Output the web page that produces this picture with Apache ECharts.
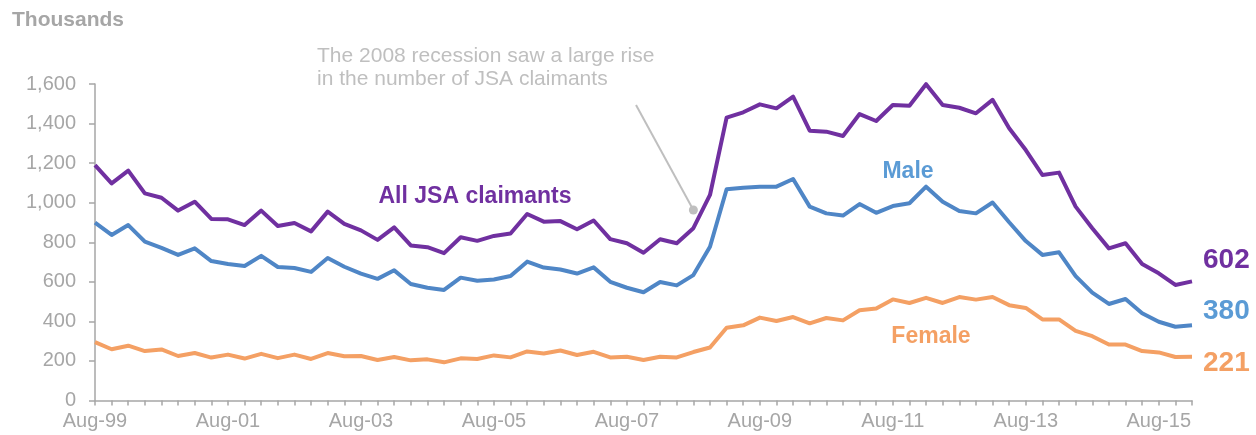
<!DOCTYPE html>
<html>
<head>
<meta charset="utf-8">
<script src="https://cdn.jsdelivr.net/npm/echarts@6/dist/echarts.min.js"></script>
<style>
html,body{margin:0;padding:0;background:#fff;}
#chart{width:1256px;height:435px;}
</style>
</head>
<body>
<div id="chart"></div>
<script>
const categories = [
  'Aug-99','Nov-99',
  'Feb-00','May-00','Aug-00','Nov-00',
  'Feb-01','May-01','Aug-01','Nov-01',
  'Feb-02','May-02','Aug-02','Nov-02',
  'Feb-03','May-03','Aug-03','Nov-03',
  'Feb-04','May-04','Aug-04','Nov-04',
  'Feb-05','May-05','Aug-05','Nov-05',
  'Feb-06','May-06','Aug-06','Nov-06',
  'Feb-07','May-07','Aug-07','Nov-07',
  'Feb-08','May-08','Aug-08','Nov-08',
  'Feb-09','May-09','Aug-09','Nov-09',
  'Feb-10','May-10','Aug-10','Nov-10',
  'Feb-11','May-11','Aug-11','Nov-11',
  'Feb-12','May-12','Aug-12','Nov-12',
  'Feb-13','May-13','Aug-13','Nov-13',
  'Feb-14','May-14','Aug-14','Nov-14',
  'Feb-15','May-15','Aug-15','Nov-15',
  'Feb-16'
];

const allClaimants = [
  1190,1098,1162,1047,1025,960,1005,918,916,887,
  960,882,897,855,955,893,860,812,875,784,
  775,745,825,807,832,844,943,904,907,866,
  910,816,795,747,815,795,871,1039,1430,1457,
  1497,1477,1536,1364,1359,1337,1448,1413,1494,1490,
  1599,1494,1480,1452,1520,1376,1266,1140,1152,980,
  871,769,795,690,643,584,602
];

const male = [
  899,837,887,803,772,736,769,705,690,680,
  731,675,670,650,720,676,641,615,658,589,
  570,559,621,605,612,629,702,672,662,642,
  673,600,570,547,599,582,634,777,1068,1076,
  1081,1081,1120,980,946,935,993,949,983,997,
  1081,1005,958,946,1001,901,806,736,749,629,
  545,488,513,441,398,373,380
];

const female = [
  295,259,277,250,258,225,240,217,232,212,
  236,214,232,210,240,224,225,205,220,203,
  208,193,213,210,228,218,248,238,253,230,
  246,218,221,205,221,218,245,268,368,380,
  419,402,422,390,417,405,456,465,511,493,
  519,493,523,510,523,482,468,410,410,352,
  325,283,283,250,243,220,221
];

const yTicks = { min: 0, max: 1600, interval: 200 };

const seriesNames = ['All JSA claimants', 'Male', 'Female'];
const annotationLines = ['The 2008 recession saw a large rise', 'in the number of JSA claimants'];
// annotation pointer: [category index, value] for start and end (dot)
const pointerStart = [32.55, 1494];
const pointerEnd = [36, 963];

const FONT = "'Liberation Sans', Arial, sans-serif";
const PURPLE = '#7030A0';
const BLUE = '#4F86C6';
const ORANGE = '#F4A064';
const AXIS = '#a6a6a6';

const chart = echarts.init(document.getElementById('chart'), null, { renderer: 'canvas' });

function lineSeries(name, data, color, labelColor, offset) {
  return {
    name: name,
    type: 'line',
    data: data,
    symbol: 'none',
    smooth: false,
    lineStyle: { color: color, width: 4, join: 'round' },
    itemStyle: { color: color },
    endLabel: {
      show: true,
      formatter: function (p) { return p.value; },
      color: labelColor,
      fontFamily: FONT,
      fontWeight: 'bold',
      fontSize: 28,
      distance: 11,
      offset: offset
    },
    emphasis: { disabled: true },
    z: 3
  };
}

chart.setOption({
  animation: false,
  backgroundColor: '#ffffff',
  grid: { left: 95, right: 64, top: 84, bottom: 34.5, containLabel: false },
  xAxis: {
    type: 'category',
    data: categories,
    boundaryGap: false,
    axisLine: { show: true, lineStyle: { color: AXIS, width: 1.5 } },
    axisTick: { show: true, interval: 0, length: 5, lineStyle: { color: AXIS, width: 1.5 } },
    axisLabel: {
      interval: 7,
      color: AXIS,
      fontFamily: FONT,
      fontSize: 20,
      margin: 11
    },
    splitLine: { show: false }
  },
  yAxis: {
    type: 'value',
    min: yTicks.min,
    max: yTicks.max,
    interval: yTicks.interval,
    axisLine: { show: true, lineStyle: { color: AXIS, width: 1.5 } },
    axisTick: { show: true, length: 6, lineStyle: { color: AXIS, width: 1.5 } },
    axisLabel: {
      color: AXIS,
      fontFamily: FONT,
      fontSize: 20,
      margin: 19,
      formatter: function (v) { return v.toLocaleString('en-GB'); }
    },
    splitLine: { show: false }
  },
  series: [
    lineSeries(seriesNames[0], allClaimants, PURPLE, PURPLE, [0, -21]),
    lineSeries(seriesNames[1], male, BLUE, '#5B9BD5', [0, -14]),
    lineSeries(seriesNames[2], female, ORANGE, '#F4A064', [0, 6])
  ]
});

function toPixel(pt) {
  const i0 = Math.floor(pt[0]);
  const i1 = Math.min(i0 + 1, categories.length - 1);
  const f = pt[0] - i0;
  const a = chart.convertToPixel({ gridIndex: 0 }, [i0, pt[1]]);
  const b = chart.convertToPixel({ gridIndex: 0 }, [i1, pt[1]]);
  return [a[0] + (b[0] - a[0]) * f, a[1]];
}

const ps = toPixel(pointerStart);
const pe = toPixel(pointerEnd);

chart.setOption({
  graphic: [
    {
      type: 'text', left: 12, top: 10,
      style: { text: 'Thousands', fill: '#a6a6a6', font: 'bold 21px ' + FONT }
    },
    {
      type: 'text', left: 317, top: 45,
      style: {
        text: annotationLines.join('\n'),
        fill: '#bfbfbf',
        font: '21px ' + FONT,
        lineHeight: 23
      }
    },
    {
      type: 'line',
      shape: { x1: ps[0], y1: ps[1], x2: pe[0], y2: pe[1] },
      style: { stroke: '#bfbfbf', lineWidth: 2 },
      z: 10
    },
    {
      type: 'circle',
      shape: { cx: pe[0], cy: pe[1], r: 4.5 },
      style: { fill: '#bfbfbf' },
      z: 10
    },
    {
      type: 'text', x: 475, y: 197,
      style: { text: seriesNames[0], fill: PURPLE, font: 'bold 23px ' + FONT, textAlign: 'center', textVerticalAlign: 'middle' }
    },
    {
      type: 'text', x: 908, y: 172,
      style: { text: seriesNames[1], fill: '#5B9BD5', font: 'bold 23px ' + FONT, textAlign: 'center', textVerticalAlign: 'middle' }
    },
    {
      type: 'text', x: 931, y: 337,
      style: { text: seriesNames[2], fill: '#F4A064', font: 'bold 23px ' + FONT, textAlign: 'center', textVerticalAlign: 'middle' }
    }
  ]
});
</script>
</body>
</html>
